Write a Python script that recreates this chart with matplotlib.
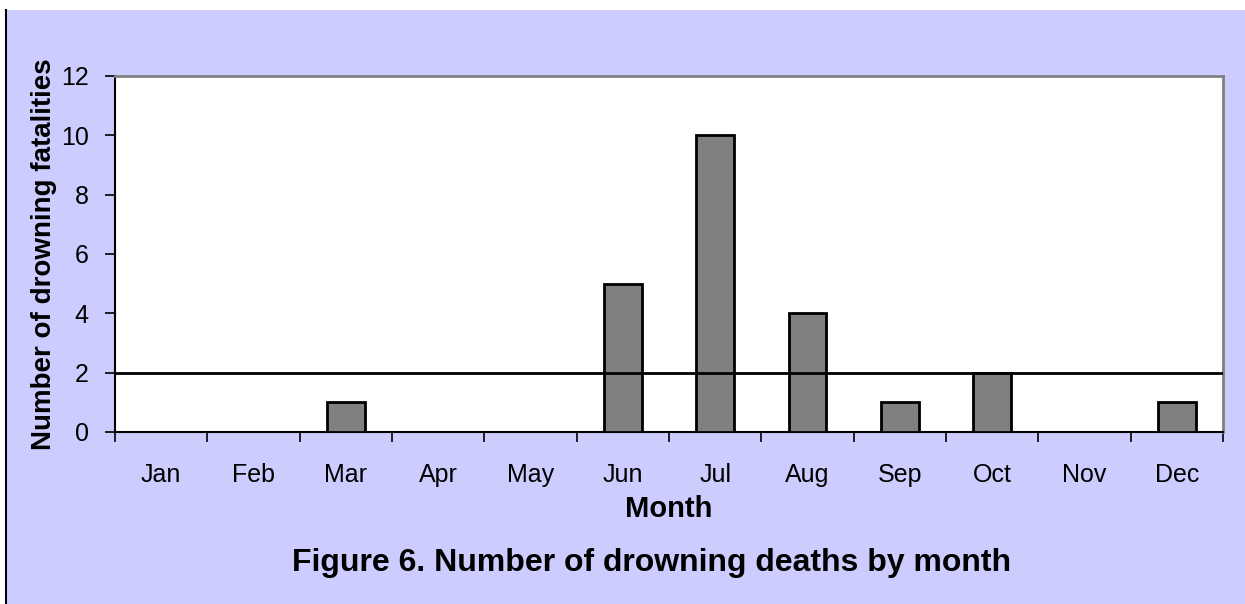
import matplotlib.pyplot as plt
import matplotlib.patches as patches
import numpy as np

months = ['Jan', 'Feb', 'Mar', 'Apr', 'May', 'Jun', 'Jul', 'Aug', 'Sep', 'Oct', 'Nov', 'Dec']
deaths = [0, 0, 1, 0, 0, 5, 10, 4, 1, 2, 0, 1]
average = 2

plt.rcParams['font.family'] = ['Liberation Sans', 'DejaVu Sans']

fig = plt.figure(figsize=(12.45, 6.04), dpi=100)
fig.patch.set_facecolor('white')

# lavender chart area + black edge on the left
fig.patches.append(patches.Rectangle((7 / 1245, 0), 1 - 7 / 1245, 1 - 10 / 604,
                                     transform=fig.transFigure, facecolor='#CCCCFF',
                                     edgecolor='none', zorder=-5))
fig.lines.append(plt.Line2D([6 / 1245, 6 / 1245], [0, 1 - 10 / 604],
                            transform=fig.transFigure, color='black', lw=1.5, zorder=-4))

ax = fig.add_axes([0.0924, 0.2848, 0.8899, 0.5894])
ax.set_zorder(2)
ax.set_facecolor('white')

x = np.arange(len(months))
ax.bar(x, deaths, width=0.41, color='#808080', edgecolor='black', linewidth=2, zorder=3)
ax.axhline(average, color='black', lw=2, zorder=4)

ax.set_xlim(-0.5, len(months) - 0.5)
ax.set_ylim(0, 12)
ax.set_yticks(range(0, 13, 2))
ax.set_xticks(x)
ax.set_xticklabels(months)
ax.set_xticks(np.arange(-0.5, len(months)), minor=True)
ax.tick_params(axis='x', which='major', length=0, pad=22, labelsize=18)
ax.tick_params(axis='x', which='minor', length=7, width=1.2, direction='out')
ax.tick_params(axis='y', length=7, width=1.2, pad=12, labelsize=18)

for s in ['top', 'right']:
    ax.spines[s].set_color('#808080')
    ax.spines[s].set_linewidth(2)
for s in ['left', 'bottom']:
    ax.spines[s].set_color('black')
    ax.spines[s].set_linewidth(1.5)

ax.set_xlabel('Month', fontsize=21, fontweight='bold', labelpad=6)
ax.set_ylabel('Number of drowning fatalities', fontsize=20, fontweight='bold', labelpad=3)

fig.text(0.523, 0.043, 'Figure 6. Number of drowning deaths by month',
         ha='center', va='bottom', fontsize=23, fontweight='bold')

fig.savefig('out.png', dpi=100)
